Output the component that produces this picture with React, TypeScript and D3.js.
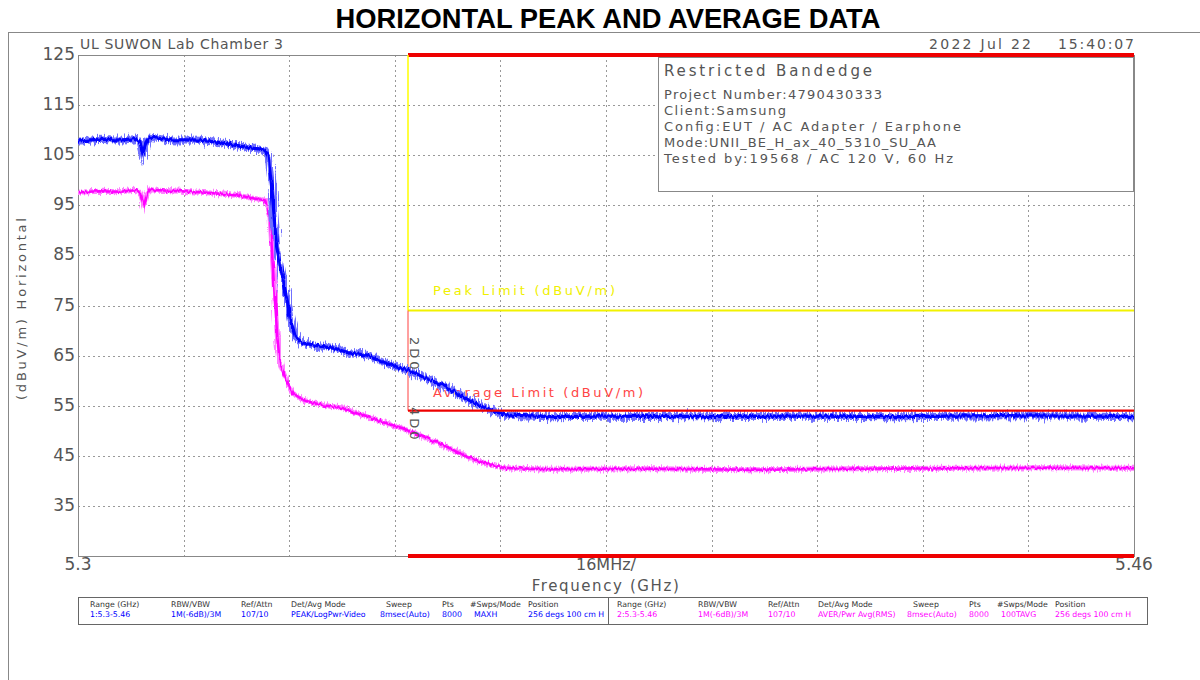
import * as d3 from "d3";

// trace 1: peak (MAXH), trace 2: average (RMS)
const peakFreq = [
  5.3, 5.3033, 5.3064, 5.3086, 5.3094, 5.3098, 5.3103, 5.3109, 5.3139, 5.3185,
  5.3215, 5.3245, 5.3276, 5.3283, 5.3288, 5.3294, 5.3301, 5.3309, 5.3317, 5.3321,
  5.3329, 5.3341, 5.3362, 5.3386, 5.3412, 5.3438, 5.3462, 5.3488, 5.3503, 5.3523,
  5.3553, 5.3583, 5.3614, 5.3635, 5.365, 5.3715, 5.3791, 5.3942, 5.4094, 5.4245,
  5.4397, 5.4548, 5.46,
];
const peakLevel = [
  107.8, 108.2, 108.0, 108.3, 107.6, 105.4, 107.4, 108.6, 108.1, 108.0,
  107.5, 106.8, 106.2, 106.0, 105.0, 98.0, 86.7, 81.5, 76.0, 72.5,
  68.7, 67.5, 67.0, 66.5, 65.5, 65.1, 63.7, 62.5, 62.0, 60.7,
  59.1, 56.7, 54.7, 53.7, 53.1, 52.8, 52.9, 52.8, 52.9, 52.8,
  53.0, 52.9, 52.8,
];

const avgFreq = [
  5.3, 5.3033, 5.3064, 5.3086, 5.3094, 5.31, 5.3105, 5.3109, 5.3139, 5.3185,
  5.3215, 5.3245, 5.3261, 5.3283, 5.3291, 5.3295, 5.3302, 5.3306, 5.3317, 5.3326,
  5.3341, 5.3371, 5.3402, 5.3432, 5.3462, 5.3492, 5.3523, 5.3553, 5.3583, 5.3614,
  5.3644, 5.3715, 5.3867, 5.4018, 5.417, 5.4321, 5.4473, 5.46,
];
const avgLevel = [
  97.6, 97.8, 97.7, 98.0, 97.5, 95.0, 97.4, 98.1, 97.9, 97.6,
  97.3, 96.9, 96.5, 96.0, 92.7, 83.4, 68.7, 63.5, 59.5, 57.5,
  56.1, 55.1, 54.5, 53.1, 51.7, 50.5, 48.8, 47.2, 45.2, 43.6,
  42.6, 42.3, 42.4, 42.2, 42.4, 42.5, 42.6, 42.5,
];

const yTicks = [125, 115, 105, 95, 85, 75, 65, 55, 45, 35];
const peakLimit = 74;
const avgLimit = 54;
const bandStart = 5.35;

const infoLines = [
  "Project Number:4790430333",
  "Client:Samsung",
  "Config:EUT / AC Adapter / Earphone",
  "Mode:UNII_BE_H_ax_40_5310_SU_AA",
  "Tested by:19568 / AC 120 V, 60 Hz",
];
const infoWidths = [218, 122, 297, 272, 289];

const tableHeaders = ["Range (GHz)", "RBW/VBW", "Ref/Attn", "Det/Avg Mode", "Sweep", "Pts", "#Swps/Mode", "Position"];
const trace1Values = ["1:5.3-5.46", "1M(-6dB)/3M", "107/10", "PEAK/LogPwr-Video", "8msec(Auto)", "8000", "MAXH", "256 degs 100 cm H"];
const trace2Values = ["2:5.3-5.46", "1M(-6dB)/3M", "107/10", "AVER/Pwr Avg(RMS)", "8msec(Auto)", "8000", "100TAVG", "256 degs 100 cm H"];
const colOffsets = [0, 81, 151, 201, 296, 352, 380, 438];
const valOffsets = [0, 81, 151, 201, 290, 352, 384, 438];

const W = 1200;
const H = 680;
const margin = { left: 78, right: 1134, top: 55, bottom: 556 };
const font = "'DejaVu Sans', sans-serif";
const txt = "#555";

export default function App() {
  const x = d3.scaleLinear().domain([5.3, 5.46]).range([margin.left, margin.right]);
  const y = d3.scaleLinear().domain([25, 125]).range([margin.bottom, margin.top]);

  const peakData = peakFreq.map((f, i) => [f, peakLevel[i]] as [number, number]);
  const avgData = avgFreq.map((f, i) => [f, avgLevel[i]] as [number, number]);
  const line = d3
    .line<[number, number]>()
    .x((d) => x(d[0]))
    .y((d) => y(d[1]));

  const xGrid = d3.range(1, 10).map((i) => 5.3 + (i * 0.16) / 10);
  const yGrid = yTicks.slice(1);
  const xb = x(bandStart);
  const xr = margin.right;
  const peakPath = line(peakData) ?? "";
  const avgPath = line(avgData) ?? "";

  return (
    <svg
      width={W}
      height={H}
      style={{ position: "absolute", left: 0, top: 0, background: "#fff" }}
      fontFamily={font}
    >
      <defs>
        {/* analyser trace texture */}
        <filter id="jitterWide" x="-2%" y="-10%" width="104%" height="120%">
          <feTurbulence type="fractalNoise" baseFrequency="0.7 0.03" numOctaves={2} seed={4} result="n" />
          <feDisplacementMap in="SourceGraphic" in2="n" scale={12} xChannelSelector="G" yChannelSelector="R" />
        </filter>
        <filter id="jitterMid" x="-2%" y="-10%" width="104%" height="120%">
          <feTurbulence type="fractalNoise" baseFrequency="0.7 0.03" numOctaves={2} seed={7} result="n" />
          <feDisplacementMap in="SourceGraphic" in2="n" scale={8} xChannelSelector="G" yChannelSelector="R" />
        </filter>
        <filter id="jitterThin" x="-2%" y="-10%" width="104%" height="120%">
          <feTurbulence type="fractalNoise" baseFrequency="0.5 0.04" numOctaves={2} seed={9} result="n" />
          <feDisplacementMap in="SourceGraphic" in2="n" scale={5} xChannelSelector="G" yChannelSelector="R" />
        </filter>
        <clipPath id="plot-clip">
          <rect x={margin.left} y={margin.top} width={margin.right - margin.left} height={margin.bottom - margin.top} />
        </clipPath>
      </defs>

      <text
        x={608}
        y={28}
        textAnchor="middle"
        fontFamily="'Liberation Sans', Arial, sans-serif"
        fontWeight="bold"
        fontSize={27}
        textLength={545}
        lengthAdjust="spacingAndGlyphs"
        fill="#000"
      >
        HORIZONTAL PEAK AND AVERAGE DATA
      </text>

      {/* outer frame */}
      <line x1={8} x2={W} y1={32.5} y2={32.5} stroke="#888" />
      <line x1={8.5} x2={8.5} y1={32} y2={H} stroke="#888" />

      <text x={80} y={45} dominantBaseline="middle" fontSize={14} textLength={203} lengthAdjust="spacing" fill={txt}>
        UL SUWON Lab Chamber 3
      </text>
      <text x={929} y={45} dominantBaseline="middle" fontSize={14} textLength={102} lengthAdjust="spacing" fill={txt}>
        2022 Jul 22
      </text>
      <text x={1058} y={45} dominantBaseline="middle" fontSize={14} textLength={76} lengthAdjust="spacing" fill={txt}>
        15:40:07
      </text>

      {/* grid */}
      <g stroke="#999" strokeDasharray="2,3" strokeWidth={1}>
        {xGrid.map((g) => (
          <line key={"x" + g} x1={Math.round(x(g)) + 0.5} x2={Math.round(x(g)) + 0.5} y1={margin.top} y2={margin.bottom} />
        ))}
        {yGrid.map((g) => (
          <line key={"y" + g} x1={margin.left} x2={margin.right} y1={Math.round(y(g)) + 0.5} y2={Math.round(y(g)) + 0.5} />
        ))}
      </g>
      <rect
        x={margin.left + 0.5}
        y={margin.top + 0.5}
        width={margin.right - margin.left}
        height={margin.bottom - margin.top}
        fill="none"
        stroke="#888"
      />

      {/* y tick labels */}
      {yTicks.map((t) => (
        <text key={t} x={75} y={y(t)} textAnchor="end" dominantBaseline="middle" fontSize={17} fill={txt}>
          {t}
        </text>
      ))}
      <text
        transform={`translate(22, ${309}) rotate(-90)`}
        textAnchor="middle"
        dominantBaseline="middle"
        fontSize={13}
        textLength={182}
        lengthAdjust="spacing"
        fill={txt}
      >
        (dBuV/m) Horizontal
      </text>

      {/* x labels */}
      <text x={margin.left} y={565} textAnchor="middle" dominantBaseline="middle" fontSize={17} fill={txt}>
        5.3
      </text>
      <text x={606} y={565} textAnchor="middle" dominantBaseline="middle" fontSize={16} fill={txt}>
        16MHz/
      </text>
      <text x={margin.right} y={565} textAnchor="middle" dominantBaseline="middle" fontSize={17} fill={txt}>
        5.46
      </text>
      <text x={606} y={586} textAnchor="middle" dominantBaseline="middle" fontSize={15} letterSpacing={1.6} fill={txt}>
        Frequency (GHz)
      </text>

      {/* limits */}
      <line x1={xb} x2={xr} y1={y(125)} y2={y(125)} stroke="#ee0000" strokeWidth={4} />
      <line x1={xb} x2={xr} y1={y(25)} y2={y(25)} stroke="#ee0000" strokeWidth={4} />
      <line x1={xb} x2={xb} y1={y(125)} y2={y(peakLimit)} stroke="#ffff00" strokeWidth={1.5} />
      <line x1={xb} x2={xr} y1={y(peakLimit)} y2={y(peakLimit)} stroke="#f2f200" strokeWidth={2} />
      <line x1={xb} x2={xb} y1={y(peakLimit)} y2={y(avgLimit)} stroke="#ff4040" strokeWidth={1} />
      <text x={433} y={291} dominantBaseline="middle" fontSize={13} textLength={182} lengthAdjust="spacing" fill="#f0f000">
        Peak Limit (dBuV/m)
      </text>
      <text x={433} y={393} dominantBaseline="middle" fontSize={13} textLength={210} lengthAdjust="spacing" fill="#ff4545">
        Average Limit (dBuV/m)
      </text>

      {/* info box */}
      <rect x={658.5} y={57.5} width={475} height={134} fill="#fff" stroke="#888" />
      <text x={664} y={71} dominantBaseline="middle" fontSize={15} textLength={208} lengthAdjust="spacing" fill={txt}>
        Restricted Bandedge
      </text>
      {infoLines.map((l, i) => (
        <text
          key={l}
          x={664}
          y={95 + i * 16}
          dominantBaseline="middle"
          fontSize={13}
          textLength={infoWidths[i]}
          lengthAdjust="spacing"
          fill={txt}
        >
          {l}
        </text>
      ))}

      {/* traces */}
      <g clipPath="url(#plot-clip)" fill="none" strokeLinejoin="miter">
        <path d={avgPath} stroke="#ff80ff" strokeWidth={5} filter="url(#jitterMid)" />
        <path d={avgPath} stroke="#ff00ff" strokeWidth={2.5} filter="url(#jitterThin)" />
        <path d={peakPath} stroke="#7070ff" strokeWidth={7} filter="url(#jitterWide)" />
        <path d={peakPath} stroke="#0000ff" strokeWidth={3.2} filter="url(#jitterThin)" />
      </g>

      <line x1={xb} x2={xr} y1={y(avgLimit)} y2={y(avgLimit)} stroke="#ee0000" strokeWidth={2.2} />

      {/* marker labels */}
      <text transform={`translate(${xb + 2}, 337) rotate(90)`} fontSize={13} fill="#555" letterSpacing={3}>
        2D0
      </text>
      <text transform={`translate(${xb + 2}, 407) rotate(90)`} fontSize={13} fill="#555" letterSpacing={3}>
        4D0
      </text>

      {/* settings table */}
      <rect x={78.5} y={597.5} width={530} height={27} fill="#fff" stroke="#666" />
      <rect x={608.5} y={597.5} width={539} height={27} fill="#fff" stroke="#666" />
      {tableHeaders.map((h, i) => (
        <g key={h} fontSize={7.8}>
          <text x={90 + colOffsets[i]} y={605} dominantBaseline="middle" fill="#333">
            {h}
          </text>
          <text x={617 + colOffsets[i]} y={605} dominantBaseline="middle" fill="#333">
            {h}
          </text>
          <text x={90 + valOffsets[i]} y={615} dominantBaseline="middle" fill="#0000ff">
            {trace1Values[i]}
          </text>
          <text x={617 + valOffsets[i]} y={615} dominantBaseline="middle" fill="#ff00ff">
            {trace2Values[i]}
          </text>
        </g>
      ))}
    </svg>
  );
}
